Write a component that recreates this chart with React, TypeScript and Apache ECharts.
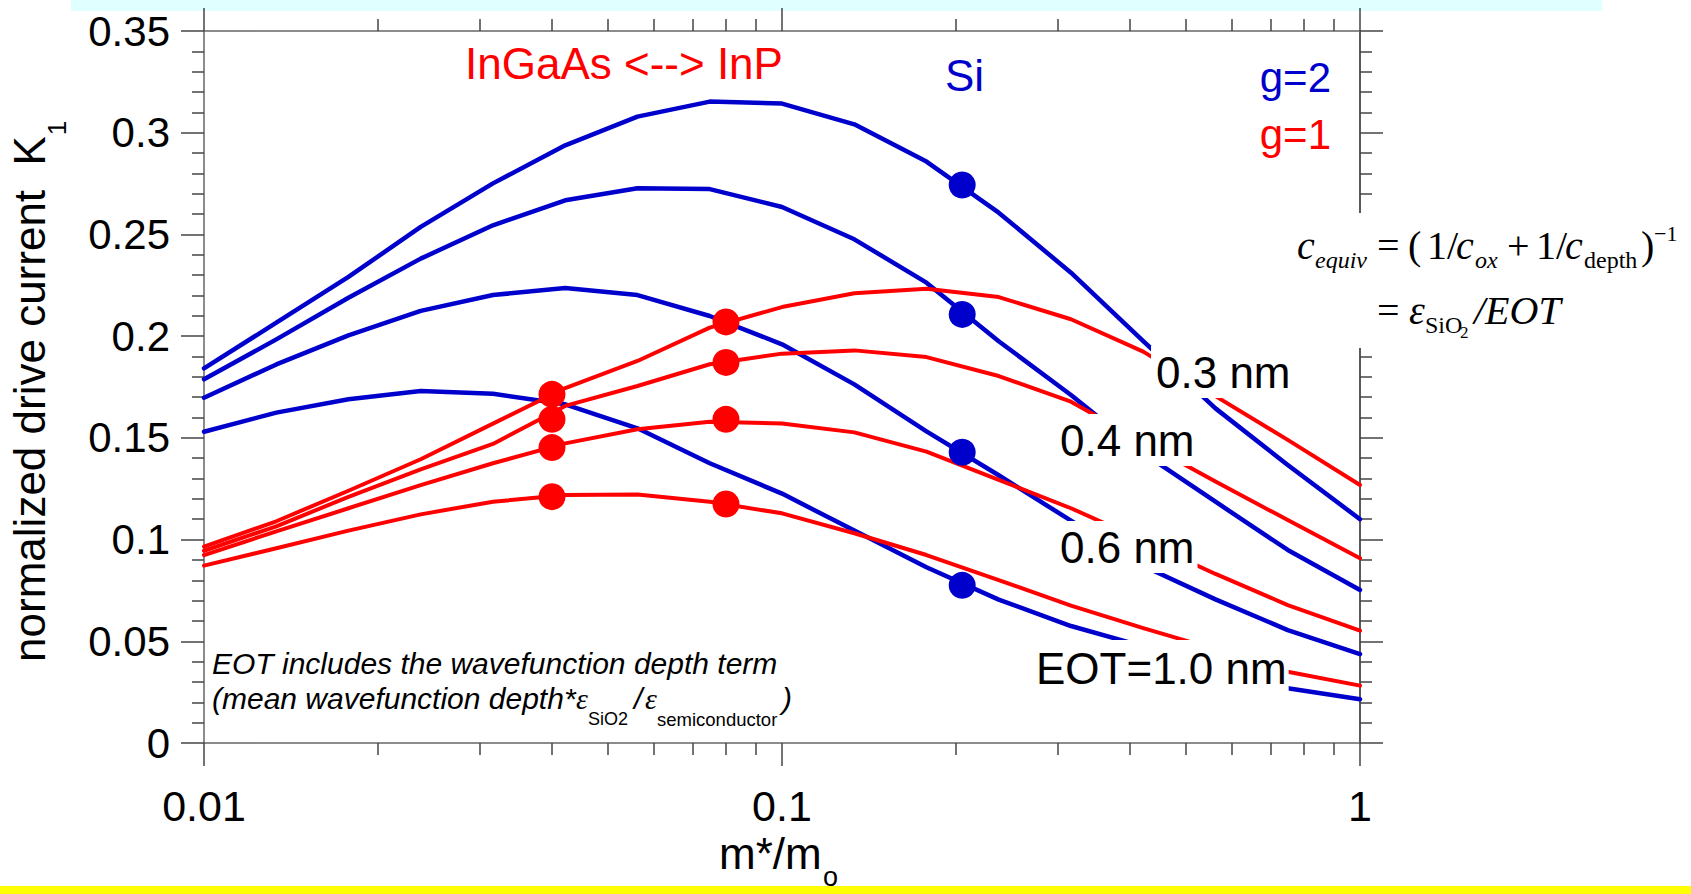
import React, { useEffect, useRef } from "react";
import * as echarts from "echarts";

// effective mass grid (m*/m0) at which the curves are sampled
const massGrid = [0.01, 0.01334, 0.01778, 0.02371, 0.03162, 0.04217, 0.05623, 0.07499, 0.1, 0.1334, 0.1778, 0.2371, 0.3162, 0.4217, 0.5623, 0.7499, 1];

// g = 2 (blue) curves, one per EOT
const blueEot03 = [0.1842, 0.2066, 0.2291, 0.2537, 0.2751, 0.2938, 0.3079, 0.3153, 0.3143, 0.3041, 0.2858, 0.2607, 0.2312, 0.1976, 0.1645, 0.1367, 0.11];
const blueEot04 = [0.1788, 0.1984, 0.2189, 0.2381, 0.2545, 0.2668, 0.2727, 0.2723, 0.2635, 0.2476, 0.2263, 0.1975, 0.1711, 0.1425, 0.1186, 0.0949, 0.0752];
const blueEot06 = [0.1697, 0.1861, 0.2004, 0.2124, 0.2202, 0.2237, 0.2202, 0.2099, 0.196, 0.1763, 0.1532, 0.1316, 0.1093, 0.087, 0.0706, 0.0555, 0.0437];
const blueEot10 = [0.153, 0.1624, 0.169, 0.173, 0.1717, 0.1665, 0.1547, 0.1375, 0.1226, 0.1044, 0.0864, 0.0705, 0.0575, 0.0475, 0.037, 0.0269, 0.0215];

// g = 1 (red) curves, one per EOT
const redEot03 = [0.0965, 0.109, 0.124, 0.1395, 0.157, 0.1745, 0.1878, 0.2042, 0.2143, 0.2211, 0.2233, 0.2192, 0.2083, 0.1924, 0.1705, 0.149, 0.1268];
const redEot04 = [0.0945, 0.1065, 0.121, 0.1345, 0.147, 0.1657, 0.1755, 0.1862, 0.1914, 0.193, 0.1897, 0.1804, 0.1678, 0.148, 0.1285, 0.1096, 0.0908];
const redEot06 = [0.0924, 0.104, 0.1154, 0.1268, 0.1375, 0.1473, 0.1542, 0.1579, 0.1571, 0.1527, 0.1432, 0.1294, 0.1154, 0.0995, 0.0831, 0.0678, 0.0552];
const redEot10 = [0.0872, 0.0957, 0.1044, 0.1124, 0.1186, 0.1219, 0.1222, 0.1186, 0.1129, 0.1031, 0.0924, 0.0801, 0.0675, 0.0565, 0.046, 0.035, 0.0282];

// material markers
const inGaAsMass = 0.04;
const inPMass = 0.08;
const siMass = 0.205;
const inGaAsDots = [0.1714, 0.1591, 0.1452, 0.1211];
const inPDots = [0.207, 0.1871, 0.1591, 0.1175];
const siDots = [0.2743, 0.2107, 0.1429, 0.0775];

const BLUE = "#0000cc";
const RED = "#ff0000";
const SANS = "Liberation Sans, Arial, sans-serif";
const SERIF = "Liberation Serif, Times New Roman, serif";

const pairs = (ys: number[]) => massGrid.map((m, i) => [m, ys[i]]);

const lineSeries = (name: string, ys: number[], color: string, width: number, z: number) => ({
  type: "line",
  name,
  data: pairs(ys),
  xAxisIndex: 0,
  yAxisIndex: 0,
  symbol: "none",
  showSymbol: false,
  silent: true,
  z,
  lineStyle: { color, width, opacity: 1, cap: "round", join: "round" },
  itemStyle: { color },
});

const dotSeries = (name: string, mass: number, ys: number[], color: string) => ({
  type: "scatter",
  name,
  data: ys.map((v) => [mass, v]),
  xAxisIndex: 0,
  yAxisIndex: 0,
  symbol: "circle",
  symbolSize: 27,
  silent: true,
  z: 8,
  itemStyle: { color, opacity: 1 },
});

type TOpt = {
  size?: number;
  family?: string;
  italic?: boolean;
  color?: string;
  align?: string;
  bg?: boolean;
  padding?: number[];
  rotation?: number;
  lineHeight?: number;
};

const txt = (text: string, x: number, y: number, o: TOpt = {}) => ({
  type: "text",
  x,
  y,
  z: 30,
  rotation: o.rotation || 0,
  silent: true,
  style: {
    text,
    fill: o.color || "#000",
    fontSize: o.size || 44,
    fontFamily: o.family || SANS,
    fontStyle: o.italic ? "italic" : "normal",
    align: o.align || "left",
    verticalAlign: "middle",
    lineHeight: o.lineHeight || o.size || 44,
    ...(o.bg ? { backgroundColor: "#ffffff", padding: o.padding || [4, 3, 4, 5] } : {}),
  },
});

const axisLineStyle = { color: "#666", width: 1.5 };
const tickStyle = { color: "#444", width: 1.5 };

const makeX = (position: string, showLabel: boolean) => ({
  type: "log",
  logBase: 10,
  min: 0.01,
  max: 1,
  position,
  z: 3,
  axisLine: { show: true, onZero: false, lineStyle: axisLineStyle },
  axisTick: { show: true, inside: false, length: 23, lineStyle: tickStyle },
  minorTick: { show: true, splitNumber: 9, length: 12, lineStyle: tickStyle },
  axisLabel: {
    show: showLabel,
    margin: 41,
    fontSize: 43,
    lineHeight: 43,
    fontFamily: SANS,
    color: "#000",
  },
  splitLine: { show: false },
  minorSplitLine: { show: false },
});

const makeY = (position: string, showLabel: boolean) => ({
  type: "value",
  min: 0,
  max: 0.35,
  interval: 0.05,
  position,
  z: 3,
  axisLine: { show: true, onZero: false, lineStyle: position === "right" ? { color: "#222", width: 1.5 } : axisLineStyle },
  axisTick: { show: true, inside: false, length: 23, lineStyle: tickStyle },
  minorTick: { show: true, splitNumber: 5, length: 12, lineStyle: tickStyle },
  axisLabel: {
    show: showLabel,
    margin: 34,
    fontSize: 42,
    fontFamily: SANS,
    color: "#000",
  },
  splitLine: { show: false },
  minorSplitLine: { show: false },
});

const option = {
  animation: false,
  backgroundColor: "#ffffff",
  grid: { left: 204, top: 31, width: 1156, height: 712, containLabel: false, outerBoundsMode: "none" },
  xAxis: [makeX("bottom", true), makeX("top", false)],
  yAxis: [makeY("left", true), makeY("right", false)],
  series: [
    lineSeries("g=2 EOT 0.3", blueEot03, BLUE, 4.5, 4),
    lineSeries("g=2 EOT 0.4", blueEot04, BLUE, 4.5, 4),
    lineSeries("g=2 EOT 0.6", blueEot06, BLUE, 4.5, 4),
    lineSeries("g=2 EOT 1.0", blueEot10, BLUE, 4.5, 4),
    lineSeries("g=1 EOT 0.3", redEot03, RED, 4, 5),
    lineSeries("g=1 EOT 0.4", redEot04, RED, 4, 5),
    lineSeries("g=1 EOT 0.6", redEot06, RED, 4, 5),
    lineSeries("g=1 EOT 1.0", redEot10, RED, 4, 5),
    dotSeries("Si", siMass, siDots, BLUE),
    dotSeries("InGaAs", inGaAsMass, inGaAsDots, RED),
    dotSeries("InP", inPMass, inPDots, RED),
  ],
  graphic: [
    { type: "rect", z: 1, silent: true, shape: { x: 71, y: 0, width: 1531, height: 11 }, style: { fill: "#e0ffff" } },
    { type: "rect", z: 1, silent: true, shape: { x: 0, y: 886, width: 1691, height: 8 }, style: { fill: "#ffff00" } },
    // white box behind formula
    { type: "rect", z: 20, silent: true, shape: { x: 1290, y: 213, width: 400, height: 135 }, style: { fill: "#ffffff" } },

    // titles
    txt("InGaAs <--> InP", 465, 63, { color: RED }),
    txt("Si", 945, 75, { color: BLUE }),
    txt("g=2", 1331, 77, { color: BLUE, size: 42, align: "right" }),
    txt("g=1", 1331, 134, { color: RED, size: 42, align: "right" }),

    // EOT labels
    txt("0.3 nm", 1151, 372, { bg: true }),
    txt("0.4 nm", 1055, 440, { bg: true }),
    txt("0.6 nm", 1055, 547, { bg: true }),
    txt("EOT=1.0 nm", 1031, 668, { bg: true, padding: [6, 2, 6, 5] }),

    // formula line 1
    txt("c", 1297, 245.5, { family: SERIF, italic: true, size: 40 }),
    txt("equiv", 1315, 260, { family: SERIF, italic: true, size: 24 }),
    txt("=", 1377, 245.5, { family: SERIF, size: 40 }),
    txt("(", 1408, 245.5, { family: SERIF, size: 40 }),
    txt("1/", 1427, 245.5, { family: SERIF, size: 40 }),
    txt("c", 1456, 245.5, { family: SERIF, italic: true, size: 40 }),
    txt("ox", 1475, 260, { family: SERIF, italic: true, size: 24 }),
    txt("+", 1507, 245.5, { family: SERIF, size: 40 }),
    txt("1/", 1536, 245.5, { family: SERIF, size: 40 }),
    txt("c", 1565, 245.5, { family: SERIF, italic: true, size: 40 }),
    txt("depth", 1584, 260, { family: SERIF, size: 24 }),
    txt(")", 1641, 245.5, { family: SERIF, size: 40 }),
    txt("\u22121", 1654, 233.5, { family: SERIF, size: 22 }),
    // formula line 2
    txt("=", 1377, 310, { family: SERIF, size: 40 }),
    txt("\u03b5", 1409, 310, { family: SERIF, italic: true, size: 40 }),
    txt("SiO", 1425, 325, { family: SERIF, size: 24 }),
    txt("2", 1460, 332, { family: SERIF, size: 17 }),
    txt("/EOT", 1474, 310, { family: SERIF, italic: true, size: 40 }),

    // note
    txt("EOT includes the wavefunction depth term", 212, 663, { italic: true, size: 30 }),
    txt("(mean wavefunction depth*", 212, 698, { italic: true, size: 30 }),
    txt("\u03b5", 576, 698, { family: SERIF, italic: true, size: 30 }),
    txt("SiO2", 588, 719, { size: 18 }),
    txt("/", 634, 698, { italic: true, size: 30 }),
    txt("\u03b5", 645, 698, { family: SERIF, italic: true, size: 30 }),
    txt("semiconductor", 657, 719, { size: 18.5 }),
    txt(")", 782, 698, { italic: true, size: 30 }),

    // axis titles
    txt("normalized drive current  K", 29.5, 399, { align: "center", rotation: Math.PI / 2 }),
    txt("1", 57, 128, { size: 26, align: "center", rotation: Math.PI / 2 }),
    txt("m*/m", 719, 853, {}),
    txt("o", 823, 877, { size: 27, lineHeight: 16 }),
  ],
};

export default function App() {
  const ref = useRef<HTMLDivElement>(null);
  useEffect(() => {
    if (!ref.current) return;
    const chart = echarts.init(ref.current, null, { renderer: "svg" });
    chart.setOption(option as any);
    return () => chart.dispose();
  }, []);
  return (
    <div
      ref={ref}
      style={{ position: "fixed", left: 0, top: 0, width: 1691, height: 894, background: "#fff" }}
    />
  );
}
